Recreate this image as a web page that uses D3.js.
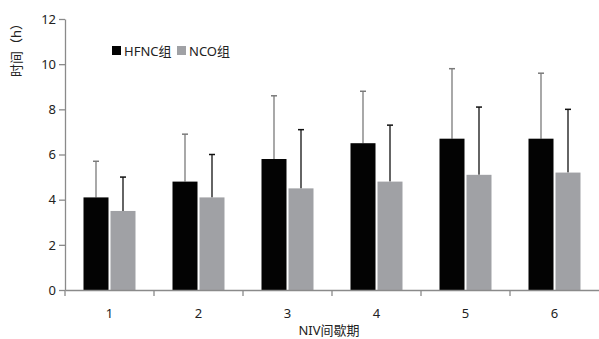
<!DOCTYPE html>
<html lang="zh">
<head>
    <meta charset="UTF-8">
    <title>NIV间歇期</title>
    <script src="https://d3js.org/d3.v7.min.js"></script>
    <style>
        body { margin: 0; padding: 0; background: #fff; overflow: hidden; }
        text { font-family: "Noto Sans", "Noto Sans CJK SC", sans-serif; fill: #222; }
        .axis path, .axis line { stroke: #8a8a8a; }
    </style>
</head>
<body>
    <div id="chart"></div>
    <script>
        const periods = ["1", "2", "3", "4", "5", "6"];
        const seriesNames = ["HFNC组", "NCO组"];
        const hfncMean = [4.1, 4.8, 5.8, 6.5, 6.7, 6.7];
        const hfncSd = [1.6, 2.1, 2.8, 2.3, 3.1, 2.9];
        const ncoMean = [3.5, 4.1, 4.5, 4.8, 5.1, 5.2];
        const ncoSd = [1.5, 1.9, 2.6, 2.5, 3.0, 2.8];
        const yTicks = [0, 2, 4, 6, 8, 10, 12];

        const fills = ["#030303", "#a0a1a5"];
        const errColors = ["#7a7a7a", "#111"];

        const width = 599, height = 339;
        const margin = { top: 19, right: 0, bottom: 49, left: 65 };

        const svg = d3.select("#chart").append("svg")
            .attr("width", width).attr("height", height);

        const x = d3.scaleBand().domain(periods)
            .range([margin.left, width - margin.right]);
        const y = d3.scaleLinear().domain([0, 12])
            .range([height - margin.bottom, margin.top]);

        const barW = 25, gap = 2;

        const rows = periods.map((p, i) => ({
            p,
            vals: [
                { s: 0, mean: hfncMean[i], sd: hfncSd[i] },
                { s: 1, mean: ncoMean[i], sd: ncoSd[i] }
            ]
        }));

        const bx = (p, s) => x(p) + x.bandwidth() / 2 - barW - gap / 2 + s * (barW + gap);

        const grp = svg.append("g").selectAll("g").data(rows).join("g");

        // error bars (upper only)
        grp.selectAll("line.err").data(d => d.vals.map(v => ({ ...v, p: d.p })))
            .join("line").attr("class", "err")
            .attr("x1", d => bx(d.p, d.s) + barW / 2)
            .attr("x2", d => bx(d.p, d.s) + barW / 2)
            .attr("y1", d => y(d.mean))
            .attr("y2", d => y(d.mean + d.sd))
            .attr("stroke", d => errColors[d.s]).attr("stroke-width", 1.3);
        grp.selectAll("line.cap").data(d => d.vals.map(v => ({ ...v, p: d.p })))
            .join("line").attr("class", "cap")
            .attr("x1", d => bx(d.p, d.s) + barW / 2 - 3)
            .attr("x2", d => bx(d.p, d.s) + barW / 2 + 3)
            .attr("y1", d => y(d.mean + d.sd))
            .attr("y2", d => y(d.mean + d.sd))
            .attr("stroke", d => errColors[d.s]).attr("stroke-width", 1.5);

        grp.selectAll("rect").data(d => d.vals.map(v => ({ ...v, p: d.p })))
            .join("rect")
            .attr("x", d => bx(d.p, d.s))
            .attr("width", barW)
            .attr("y", d => y(d.mean))
            .attr("height", d => y(0) - y(d.mean))
            .attr("fill", d => fills[d.s]);

        // axes
        const xAxis = svg.append("g").attr("class", "axis")
            .attr("transform", `translate(0,${y(0)})`)
            .call(d3.axisBottom(x).tickSize(0).tickSizeOuter(0));
        xAxis.selectAll("text").attr("dy", "1.9em").attr("font-size", 13);
        xAxis.select(".domain").attr("stroke-width", 1.3);
        // boundary ticks between bands
        xAxis.selectAll("line.bt").data(periods)
            .join("line").attr("class", "bt")
            .attr("x1", d => x(d)).attr("x2", d => x(d))
            .attr("y1", 0).attr("y2", 6)
            .attr("stroke", "#8a8a8a").attr("stroke-width", 1.3);

        const yAxis = svg.append("g").attr("class", "axis")
            .attr("transform", `translate(${margin.left},0)`)
            .call(d3.axisLeft(y).tickValues(yTicks).tickSize(6).tickSizeOuter(0).tickPadding(3));
        yAxis.selectAll("text").attr("font-size", 13);
        yAxis.select(".domain").attr("stroke-width", 1.3);
        yAxis.selectAll(".tick line").attr("stroke-width", 1.3);

        // axis titles
        svg.append("text")
            .attr("transform", `translate(21,47) rotate(-90)`)
            .attr("text-anchor", "middle")
            .attr("font-size", 13)
            .text("时间（h）");
        svg.append("text")
            .attr("x", 329).attr("y", 335)
            .attr("text-anchor", "middle")
            .attr("font-size", 13)
            .text("NIV间歇期");

        // legend
        const legendX = [112, 177];
        const lg = svg.append("g").selectAll("g").data(seriesNames).join("g")
            .attr("transform", (d, i) => `translate(${legendX[i]},46)`);
        lg.append("rect").attr("width", 9).attr("height", 9)
            .attr("fill", (d, i) => fills[i]);
        lg.append("text").attr("x", 12).attr("y", 9.5)
            .attr("font-size", 13).text(d => d);
    </script>
</body>
</html>
